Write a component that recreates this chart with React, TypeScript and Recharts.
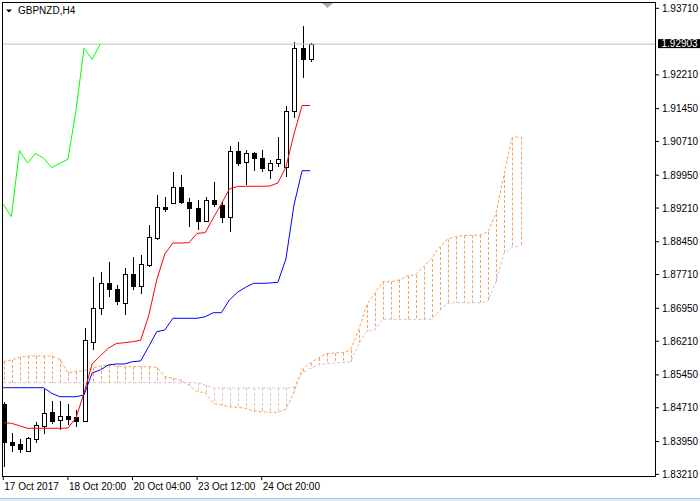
import React from "react";
import { ComposedChart, Bar, Line, XAxis, YAxis, ReferenceLine } from "recharts";

// GBPNZD H4 candles, 17 Oct 2017 12:00 onwards (one entry per bar)
const opens = [
  1.84795, 1.83945, 1.83887, 1.83743, 1.84006, 1.84306, 1.84608, 1.84434, 1.84531, 1.84495,
  1.84419, 1.86198, 1.86951, 1.87528, 1.87379, 1.87077, 1.87724, 1.87453, 1.87927, 1.88535,
  1.8924, 1.89323, 1.89691, 1.89353, 1.89218, 1.88918, 1.89391, 1.89278, 1.89001, 1.90502,
  1.90236, 1.90457, 1.90331, 1.90067, 1.90218, 1.90141, 1.91403, 1.92809, 1.92561,
];
const highs = [
  1.8484, 1.84148, 1.84006, 1.84058, 1.84396, 1.85126, 1.84869, 1.84862, 1.84795, 1.8466,
  1.865, 1.87649, 1.87776, 1.88001, 1.87476, 1.87866, 1.881, 1.88152, 1.88828, 1.89504,
  1.89452, 1.90033, 1.89954, 1.89429, 1.89391, 1.89452, 1.89803, 1.89353, 1.90608, 1.90704,
  1.90511, 1.90479, 1.90517, 1.90292, 1.90817, 1.91509, 1.92957, 1.93311, 1.92935,
];
const lows = [
  1.83375, 1.83713, 1.83684, 1.8372, 1.83923, 1.84119, 1.84344, 1.84209, 1.84322, 1.84283,
  1.84389, 1.86011, 1.868, 1.87212, 1.87025, 1.868, 1.87363, 1.87273, 1.87875, 1.8849,
  1.89127, 1.89312, 1.89301, 1.88776, 1.88715, 1.88902, 1.8924, 1.88866, 1.88677, 1.90146,
  1.89718, 1.90051, 1.90029, 1.89857, 1.90141, 1.89916, 1.91232, 1.92133, 1.92507,
];
const closes = [
  1.83939, 1.83871, 1.83781, 1.84022, 1.84322, 1.84585, 1.84412, 1.84531, 1.84457, 1.84419,
  1.86237, 1.86965, 1.87514, 1.87379, 1.87122, 1.87717, 1.87453, 1.87949, 1.88551, 1.8924,
  1.89188, 1.89691, 1.89339, 1.89204, 1.88918, 1.89391, 1.89294, 1.89015, 1.90502, 1.90225,
  1.90443, 1.90331, 1.90119, 1.90218, 1.90308, 1.91403, 1.92809, 1.92561, 1.92903,
];

// Ichimoku lines
const tenkan = [
  1.84374, 1.8436, 1.84306, 1.84247, 1.84247, 1.84247, 1.84247, 1.84247, 1.84254, 1.84479,
  1.85043, 1.85696, 1.85876, 1.8605, 1.86158, 1.86176, 1.86198, 1.8623, 1.86778, 1.87589,
  1.88174, 1.88422, 1.88422, 1.88429, 1.88641, 1.88654, 1.88985, 1.89301, 1.89639, 1.89695,
  1.897, 1.897, 1.897, 1.89706, 1.89774, 1.90134, 1.90878, 1.9152, 1.9152,
];
const kijun = [
  1.85162, 1.85162, 1.85162, 1.85162, 1.85162, 1.85162, 1.85036, 1.84959, 1.84959, 1.84959,
  1.84998, 1.85493, 1.85561, 1.85674, 1.85696, 1.85696, 1.85748, 1.85764, 1.86086, 1.86424,
  1.86462, 1.86726, 1.86726, 1.86726, 1.86726, 1.86762, 1.86852, 1.86852, 1.87138, 1.87311,
  1.87424, 1.87514, 1.87514, 1.87521, 1.87537, 1.88062, 1.89278, 1.90051, 1.90051,
];
// Senkou spans run 26 bars past the last candle
const spanA = [
  1.85748, 1.85786, 1.85847, 1.85876, 1.85876, 1.85876, 1.85876, 1.85802, 1.855, 1.85523,
  1.85545, 1.85599, 1.85651, 1.85674, 1.85651, 1.85635, 1.85635, 1.85635, 1.85635, 1.85622,
  1.8541, 1.85374, 1.85336, 1.85223, 1.85072, 1.85049, 1.84811, 1.84772, 1.84734, 1.84721,
  1.84698, 1.84637, 1.84621, 1.84608, 1.84608, 1.84675, 1.85065, 1.85583, 1.85719, 1.85831,
  1.85933, 1.85944, 1.85951, 1.86011, 1.86462, 1.87025, 1.87289, 1.8755, 1.8755, 1.87589,
  1.87679, 1.87701, 1.87888, 1.88062, 1.88332, 1.88501, 1.88569, 1.88587, 1.88596, 1.88602,
  1.8867, 1.89076, 1.89954, 1.90799, 1.90817,
];
const spanB = [
  1.85275, 1.85275, 1.85275, 1.85275, 1.85275, 1.85275, 1.85275, 1.85275, 1.85275, 1.85275,
  1.85275, 1.85275, 1.85275, 1.85275, 1.85275, 1.85275, 1.85275, 1.85275, 1.85275, 1.85275,
  1.85275, 1.85275, 1.85275, 1.85275, 1.85275, 1.85223, 1.85155, 1.85155, 1.85155, 1.85155,
  1.85155, 1.85155, 1.85155, 1.85155, 1.85155, 1.85155, 1.85178, 1.85493, 1.85599, 1.85674,
  1.85707, 1.85718, 1.8573, 1.85748, 1.86124, 1.8644, 1.86473, 1.86703, 1.86703, 1.86703,
  1.86703, 1.86703, 1.86703, 1.86703, 1.8689, 1.87059, 1.87077, 1.87077, 1.87077, 1.87077,
  1.87104, 1.87544, 1.8819, 1.88325, 1.88355,
];

const timeTicks = [0, 8, 16, 24, 32];
const timeLabels = ["17 Oct 2017", "18 Oct 20:00", "20 Oct 04:00", "23 Oct 12:00", "24 Oct 20:00"];
const priceTicks = [
  1.8321, 1.8395, 1.8471, 1.8545, 1.8621, 1.8695, 1.8771, 1.8845, 1.8921, 1.8995, 1.9071,
  1.9145, 1.9221, 1.9371,
];
const lastPrice = 1.92903;
const SHIFT = 26;

const rows = spanA.map((a, i) => {
  const has = i < closes.length;
  const b = spanB[i];
  return {
    i,
    candle: has ? [lows[i], highs[i]] : null,
    open: has ? opens[i] : null,
    close: has ? closes[i] : null,
    tenkan: has ? tenkan[i] : null,
    kijun: has ? kijun[i] : null,
    chikou: i + SHIFT < closes.length ? closes[i + SHIFT] : null,
    spanA: a,
    spanB: b,
    cloud: [Math.min(a, b), Math.max(a, b)],
  };
});

const FONT = "'Liberation Sans', Arial, sans-serif";

const Candle = (p: any) => {
  const { x, y, width, height, payload } = p;
  if (payload.open == null || height == null) return <g />;
  const [lo, hi] = payload.candle;
  const yTop = Math.min(y, y + height);
  const yBot = Math.max(y, y + height);
  const toY = (v: number) => yTop + ((hi - v) / (hi - lo)) * (yBot - yTop);
  const cx = Math.round(x + width / 2) + 0.5;
  const top = Math.round(toY(Math.max(payload.open, payload.close))) + 0.5;
  const bot = Math.round(toY(Math.min(payload.open, payload.close))) + 0.5;
  const bull = payload.close >= payload.open;
  return (
    <g>
      <line x1={cx} x2={cx} y1={Math.round(yTop)} y2={Math.round(yBot)} stroke="#000" />
      <rect
        x={cx - 2}
        y={top}
        width={4}
        height={Math.max(bot - top, 1)}
        fill={bull ? "#fff" : "#000"}
        stroke="#000"
      />
    </g>
  );
};

const Hatch = (p: any) => {
  const { x, y, width, height, payload } = p;
  if (height == null) return <g />;
  const cx = Math.round(x + width / 2) + 0.5;
  const color = payload.spanA >= payload.spanB ? "#F4A460" : "#D8BFD8";
  return (
    <line
      x1={cx}
      x2={cx}
      y1={Math.min(y, y + height)}
      y2={Math.max(y, y + height)}
      stroke={color}
      strokeDasharray="3 2"
    />
  );
};

const TimeTick = ({ x, y, payload }: any) => {
  const idx = timeTicks.indexOf(payload.value);
  return (
    <text x={x + 1} y={y} dy={7} fontSize={10} fontFamily={FONT} fill="#000" textAnchor="start">
      {timeLabels[idx]}
    </text>
  );
};

const PriceTick = ({ x, y, payload }: any) => (
  <text x={x} y={y} dy={3.5} fontSize={10} fontFamily={FONT} fill="#000" textAnchor="start">
    {Number(payload.value).toFixed(5)}
  </text>
);

const PriceTag = ({ viewBox }: any) => {
  const { x, y, width } = viewBox;
  const left = x + width + 2;
  return (
    <g>
      <rect x={left} y={y - 5} width={42} height={9} fill="#000" />
      <text x={left + 3.5} y={y + 3} fontSize={10} fontFamily={FONT} fill="#fff">
        {lastPrice.toFixed(5)}
      </text>
    </g>
  );
};

export default function App() {
  const xDomain = [-0.16, 80.83];
  return (
    <div
      style={{
        position: "absolute",
        left: 0,
        top: 0,
        width: 700,
        height: 501,
        background: "#fff",
        overflow: "hidden",
      }}
    >
      <ComposedChart width={700} height={501} data={rows} margin={{ top: 2, left: 2, right: 0, bottom: 0 }}>
        <XAxis
          type="number"
          dataKey="i"
          domain={xDomain}
          allowDataOverflow
          ticks={timeTicks}
          interval={0}
          tick={<TimeTick />}
          tickSize={3}
          tickMargin={3}
          tickLine={{ stroke: "#000" }}
          axisLine={false}
          height={24}
        />
        <XAxis xAxisId="cloud" type="number" dataKey="i" domain={xDomain} allowDataOverflow hide />
        <YAxis
          orientation="right"
          type="number"
          domain={[1.8315, 1.93852]}
          allowDataOverflow
          ticks={priceTicks}
          interval={0}
          tick={<PriceTick />}
          tickSize={3}
          tickMargin={3}
          tickLine={{ stroke: "#000" }}
          axisLine={false}
          width={44}
        />
        <ReferenceLine y={lastPrice} stroke="#C0C0C0" label={<PriceTag />} />
        <Bar xAxisId="cloud" dataKey="cloud" barSize={3} shape={<Hatch />} isAnimationActive={false} />
        <Line dataKey="spanA" stroke="#F4A460" strokeDasharray="3 2" dot={false} isAnimationActive={false} />
        <Line dataKey="spanB" stroke="#D8BFD8" strokeDasharray="3 2" dot={false} isAnimationActive={false} />
        <Bar dataKey="candle" barSize={5} shape={<Candle />} isAnimationActive={false} />
        <Line dataKey="tenkan" stroke="#FF0000" dot={false} isAnimationActive={false} />
        <Line dataKey="kijun" stroke="#0000FF" dot={false} isAnimationActive={false} />
        <Line dataKey="chikou" stroke="#00FF00" dot={false} isAnimationActive={false} />
      </ComposedChart>
      <div
        style={{
          position: "absolute",
          left: 2,
          top: 2,
          width: 654,
          height: 475,
          border: "1px solid #000",
          boxSizing: "border-box",
          pointerEvents: "none",
        }}
      />
      <svg width={700} height={501} style={{ position: "absolute", left: 0, top: 0, pointerEvents: "none" }}>
        <polygon points="6,9.5 12,9.5 9,12.5" fill="#000" />
        <text x={18} y={14} fontSize={10} fontFamily={FONT} fill="#000">
          GBPNZD,H4
        </text>
        <polygon points="322,3 333,3 327.5,8" fill="#A9A9A9" />
      </svg>
      <div style={{ position: "absolute", left: 0, top: 498, width: 700, height: 1, background: "#9FC5E8" }} />
      <div style={{ position: "absolute", left: 0, top: 499, width: 700, height: 2, background: "#E4EEF8" }} />
    </div>
  );
}
